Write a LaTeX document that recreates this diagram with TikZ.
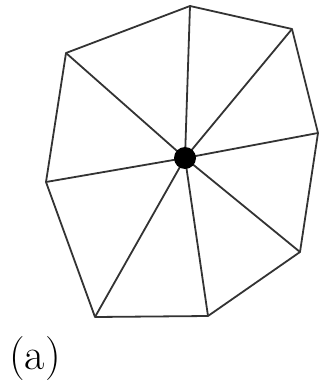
\documentclass[tikz,border=0pt]{standalone}
\begin{document}
\begin{tikzpicture}[x=1pt,y=-1pt,
  edge/.style={draw=black!80,line width=1.8pt,line join=round},
  vtx/.style={coordinate}]
\useasboundingbox (0,0) rectangle (321,388);
\coordinate (c) at (185,158);
\coordinate (v1) at (190,6);
\coordinate (v2) at (292,29);
\coordinate (v3) at (318,133);
\coordinate (v4) at (300,252);
\coordinate (v5) at (208,316);
\coordinate (v6) at (95,317);
\coordinate (v7) at (46,182);
\coordinate (v8) at (66,53);
\draw[edge] (v1) -- (v2) -- (v3) -- (v4) -- (v5) -- (v6) -- (v7) -- (v8) -- cycle;
\foreach \i in {1,...,8} \draw[edge] (c) -- (v\i);
\fill[black] (c) circle (11);
\node[font=\fontsize{44}{52}\selectfont,inner sep=0pt] (lbl) at (35,359) {(a)};
\end{tikzpicture}
\end{document}
